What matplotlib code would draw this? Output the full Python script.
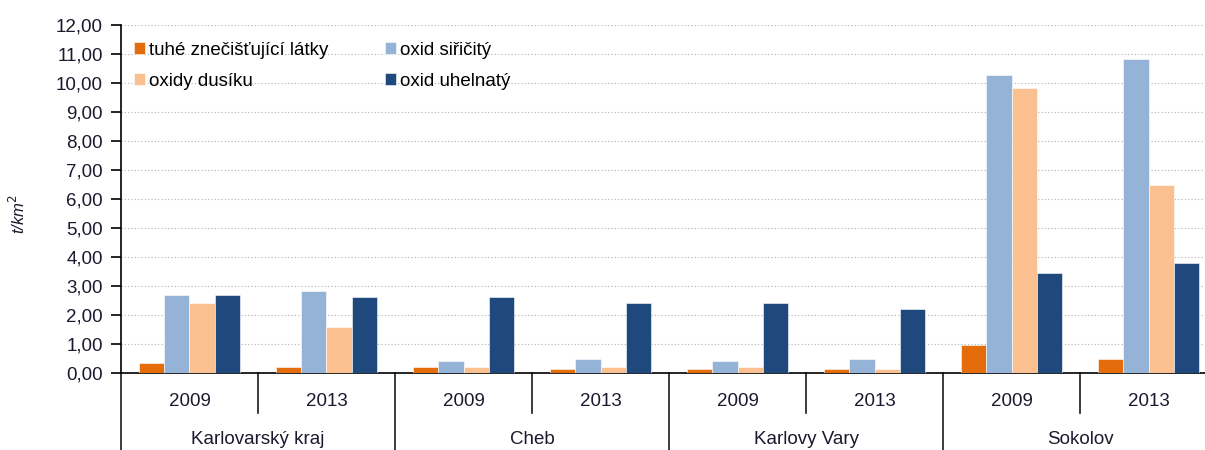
import numpy as np
import matplotlib.pyplot as plt
import matplotlib.transforms as mtransforms

plt.rcParams['font.family'] = ['Liberation Sans', 'DejaVu Sans']

regions = ['Karlovarský kraj', 'Cheb', 'Karlovy Vary', 'Sokolov']
years = ['2009', '2013']

tuhe = [0.35, 0.20, 0.20, 0.13, 0.13, 0.13, 0.97, 0.48]
so2 = [2.70, 2.83, 0.42, 0.48, 0.42, 0.48, 10.28, 10.82]
nox = [2.40, 1.60, 0.20, 0.20, 0.20, 0.13, 9.85, 6.48]
co = [2.70, 2.62, 2.62, 2.42, 2.42, 2.20, 3.45, 3.79]

series = [
    ('tuhé znečišťující látky', tuhe, '#E46C0A'),
    ('oxid siřičitý', so2, '#95B3D7'),
    ('oxidy dusíku', nox, '#FAC090'),
    ('oxid uhelnatý', co, '#1F497D'),
]
txt = '#1a1a2e'
fs = 13.5

fig = plt.figure(figsize=(12.05, 4.5), dpi=100)
ax = fig.add_axes([0.1004, 0.171, 0.9096, 0.773])

x = np.arange(len(tuhe))
w = 0.185
handles = {}
for i, (name, vals, col) in enumerate(series):
    b = ax.bar(x + (i - 1.5) * w, vals, width=w, color=col, edgecolor='white', linewidth=0.4, zorder=3)
    handles[name] = b

ax.set_xlim(-0.5, 7.5)
ax.set_ylim(0, 12)
ax.set_yticks(np.arange(0, 13, 1))
ax.set_yticklabels([f'{v:.2f}'.replace('.', ',') for v in range(13)], fontsize=fs, color=txt)
ax.yaxis.grid(True, linestyle=(0, (1, 2)), color='#b0b0b0', linewidth=0.8, zorder=0)
ax.set_xticks([])
for s in ['top', 'right']:
    ax.spines[s].set_visible(False)
ax.spines['left'].set_linewidth(1.2)
ax.spines['bottom'].set_linewidth(1.2)
ax.tick_params(axis='y', length=7, width=1.2, pad=6)

fig.text(18 / 1205, 0.525, 't/km$^2$', rotation=90, fontsize=12, style='italic',
         ha='center', va='center', color=txt)

# category labels below axis
trans = mtransforms.blended_transform_factory(ax.transData, ax.transAxes)
for i in range(len(x)):
    ax.text(x[i], -0.082, years[i % 2], transform=trans, ha='center', va='center', fontsize=fs, color=txt)
for j, r in enumerate(regions):
    ax.text(2 * j + 0.5, -0.19, r, transform=trans, ha='center', va='center', fontsize=fs, color=txt)
for k in range(len(x) + 1):
    b = k - 0.5
    low = -0.23 if k % 2 == 0 else -0.115
    ax.plot([b, b], [0, low], transform=trans, color='#1a1a1a', linewidth=1.2, clip_on=False)

order = ['tuhé znečišťující látky', 'oxidy dusíku', 'oxid siřičitý', 'oxid uhelnatý']
ax.legend([handles[n] for n in order], order, ncol=2, loc='upper left', bbox_to_anchor=(0.0, 0.99),
          frameon=False, fontsize=fs, handlelength=0.6, handleheight=0.6, handletextpad=0.2,
          columnspacing=3.0, labelspacing=0.75, borderaxespad=0.3)

fig.savefig('out.png', dpi=100)
